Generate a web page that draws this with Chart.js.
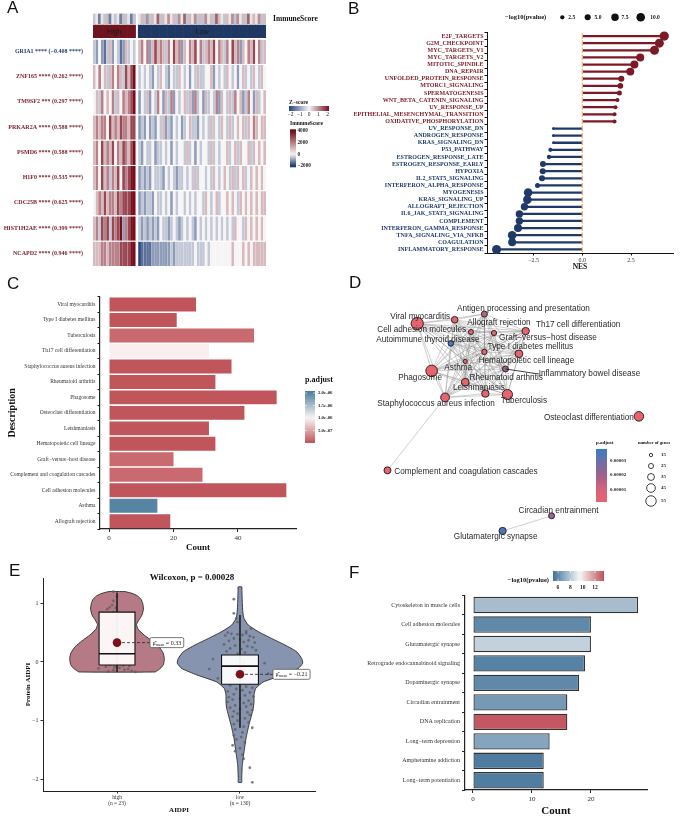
<!DOCTYPE html>
<html><head><meta charset="utf-8">
<script src="https://cdn.jsdelivr.net/npm/chart.js@4.4.1/dist/chart.umd.min.js"></script>
<style>
html,body{margin:0;padding:0;background:#fff}
body{width:690px;height:818px;position:relative;overflow:hidden}
canvas{position:absolute}
.pl{position:absolute;font-family:"Liberation Sans",Arial,sans-serif;font-size:17px;line-height:17px;color:#111}
</style></head><body>
<canvas id="cA" width="345" height="290" style="left:0;top:0"></canvas>
<canvas id="cB" width="345" height="275" style="left:345px;top:0"></canvas>
<canvas id="cC" width="345" height="275" style="left:0;top:285px"></canvas>
<canvas id="cD" width="345" height="265" style="left:345px;top:290px"></canvas>
<canvas id="cE" width="345" height="263" style="left:0;top:555px"></canvas>
<canvas id="cF" width="345" height="263" style="left:345px;top:555px"></canvas>
<div class="pl" style="left:7px;top:-1px">A</div>
<div class="pl" style="left:348px;top:0px">B</div>
<div class="pl" style="left:7px;top:275px">C</div>
<div class="pl" style="left:349px;top:274px">D</div>
<div class="pl" style="left:9px;top:562px">E</div>
<div class="pl" style="left:349px;top:564px">F</div>
<script>
// ======================= DATA =======================
// ---- Panel A: heatmap ----
const geneLabels = ['GRIA1 **** (−0.408 ****)','ZNF165 **** (0.262 ****)','TM9SF2 *** (0.297 ****)','PRKAR2A **** (0.588 ****)','PSMD6 **** (0.588 ****)','H1F0 **** (0.535 ****)','CDC25B **** (0.625 ****)','HIST1H2AE **** (0.399 ****)','NCAPD2 **** (0.946 ****)'];
const geneCorr = [-0.408,0.262,0.297,0.588,0.588,0.535,0.625,0.399,0.946];
const groupNames = ['High','Low'];
// z-score level per sample column: digit d -> z = (d-4)/2
const zHigh = [
 '32421352 43125343','54645356 46537578','45364546 35465678','56566475 65766577','56475657 46576578',
 '56475636 57476788','45657566 57677788','56376737 67826788','55566566 66777788'];
const zLow = [
 '56462575 65364756 25465746 35657465 36475625 46574635',
 '34343243 54324335 43424353 34452434 35434245 34354354',
 '24352436 42536243 45352634 25343625 43536452 36425345',
 '23242324 35232434 23453324 34353435 43534545 35465455',
 '32433423 34342434 43534243 44353434 45345354 45354545',
 '23232433 32434323 34343534 43435434 54353545 34545454',
 '23233243 34342434 43434344 35434534 45454354 54545455',
 '32323232 43323432 34343243 43434343 43435443 54545454',
 '01111222 22223233 33333433 34344444 44454445 45455555'];
// ImmuneScore level per column: digit d -> -2000 + 750*d
const immuneHigh = '23132413 23142312';
const immuneLow = '34252436 24353425 36243524 25342643 24352534 26343524';

// ---- Panel B: GSEA lollipop ----
const gseaTerms = ['E2F_TARGETS','G2M_CHECKPOINT','MYC_TARGETS_V1','MYC_TARGETS_V2','MITOTIC_SPINDLE','DNA_REPAIR','UNFOLDED_PROTEIN_RESPONSE','MTORC1_SIGNALING','SPERMATOGENESIS','WNT_BETA_CATENIN_SIGNALING','UV_RESPONSE_UP','EPITHELIAL_MESENCHYMAL_TRANSITION','OXIDATIVE_PHOSPHORYLATION','UV_RESPONSE_DN','ANDROGEN_RESPONSE','KRAS_SIGNALING_DN','P53_PATHWAY','ESTROGEN_RESPONSE_LATE','ESTROGEN_RESPONSE_EARLY','HYPOXIA','IL2_STAT5_SIGNALING','INTERFERON_ALPHA_RESPONSE','MYOGENESIS','KRAS_SIGNALING_UP','ALLOGRAFT_REJECTION','IL6_JAK_STAT3_SIGNALING','COMPLEMENT','INTERFERON_GAMMA_RESPONSE','TNFA_SIGNALING_VIA_NFKB','COAGULATION','INFLAMMATORY_RESPONSE'];
const gseaNES = [4.2,3.95,3.7,2.97,2.67,2.46,2.0,1.95,1.9,1.8,1.7,1.65,1.65,-1.49,-1.49,-1.49,-1.64,-1.71,-2.02,-2.03,-2.07,-2.3,-2.78,-2.82,-2.97,-3.23,-3.23,-3.3,-3.6,-3.6,-4.4];
const gseaLogP = [11.8,11,11,8.6,8.6,8.6,4.9,4.4,3.4,2.2,2.2,2.2,2.2,1.0,1.0,1.0,2.2,2.5,4.9,4.9,4.9,3.4,10,10,7.3,7.3,7.3,8.6,10,8.6,11];
const gseaLegendVals = [2.5,5.0,7.5,10.0];

// ---- Panel C: KEGG bar ----
const cTerms = ['Viral myocarditis','Type I diabetes mellitus','Tuberculosis','Th17 cell differentiation','Staphylococcus aureus infection','Rheumatoid arthritis','Phagosome','Osteoclast differentiation','Leishmaniasis','Hematopoietic cell lineage','Graft−versus−host disease','Complement and coagulation cascades','Cell adhesion molecules','Asthma','Allograft rejection'];
const cCount = [27,21,45,31,38,33,52,42,31,33,20,29,55,15,19];
const cPadj = [1e-8,1e-8,1.4e-7,0.97e-6,1e-8,1e-8,1e-8,1e-8,1e-8,1e-8,1.4e-7,1.4e-7,1e-8,2.0e-6,1e-8];

// ---- Panel D: enrichment map ----
const dNames = ['Antigen processing and presentation','Viral myocarditis','Cell adhesion molecules','Allograft rejection','Th17 cell differentiation','Graft−versus−host disease','Autoimmune thyroid disease','Type I diabetes mellitus','Hematopoietic cell lineage','Asthma','Inflammatory bowel disease','Phagosome','Rheumatoid arthritis','Leishmaniasis','Tuberculosis','Staphylococcus aureus infection','Osteoclast differentiation','Complement and coagulation cascades','Circadian entrainment','Glutamatergic synapse'];
const dLayoutX = [138,107,68,124,181,148,103,138,174,118,160,83,118,139,162,97,299,37,208,157];
const dLayoutY = [18,24,28,37,36,38,49,58,60,68,76,78,90,102,103,106,126,183,231,247];
const dGenes = [24,27,55,19,31,20,22,21,33,15,24,52,33,31,45,38,42,29,24,30];
const dPadj = [1.5e-5,1.5e-6,1.5e-6,2e-6,1.5e-6,2e-6,3.6e-5,2e-6,1.5e-6,2e-6,2.0e-5,1.5e-6,1.5e-6,1.5e-6,1.5e-6,1.5e-6,1.5e-6,1.5e-6,2.0e-5,3.5e-5];
const dCluster = [0,1,2,3,4,5,6,7,8,9,10,11,12,13,14,15];
const dExtraEdges = [[15,17],[18,19]];
const dSizeLegend = [15,25,35,45,55];

// ---- Panel E: violin ----
const eGroups = ['high','low'];
const eN = [23,130];
const eViolinHighY = [1.20,1.17,1.13,1.07,1.00,0.90,0.80,0.72,0.64,0.56,0.46,0.36,0.26,0.16,0.06,-0.04,-0.10,-0.14,-0.17];
const eViolinHighW = [0.065,0.122,0.163,0.195,0.209,0.215,0.203,0.179,0.159,0.171,0.22,0.285,0.341,0.374,0.385,0.378,0.358,0.333,0.309];
const eViolinLowY = [1.28,1.2,1.0,0.85,0.74,0.63,0.52,0.40,0.29,0.175,0.06,-0.02,-0.11,-0.22,-0.34,-0.45,-0.56,-0.68,-0.79,-0.9,-1.07,-1.3,-1.53,-1.75,-1.98,-2.05];
const eViolinLowW = [0.015,0.016,0.019,0.023,0.033,0.067,0.146,0.258,0.366,0.461,0.502,0.51,0.474,0.352,0.189,0.128,0.114,0.114,0.108,0.095,0.073,0.049,0.033,0.019,0.014,0.014];
const eHighY = [1.20,1.12,1.04,0.97,0.93,0.92,0.90,0.85,0.82,-0.03,-0.05,-0.06,-0.08,-0.10,-0.11,-0.12,-0.14,-0.15,-0.16,-0.17,-0.13,-0.09,-0.07];
const eHighDx = [-0.03,0.00,-0.03,-0.04,-0.06,-0.01,-0.08,-0.03,0.02,-0.12,-0.06,0.05,-0.09,0.02,-0.15,0.09,-0.03,0.12,-0.07,0.15,0.06,-0.02,0.10];
const eLowY = [1.07,0.83,0.74,0.68,0.57,0.52,
 0.50,0.48,0.47,0.46,0.49,0.44,0.45,0.42,0.40,0.38,0.37,0.36,0.34,0.33,
 0.30,0.28,0.27,0.25,0.23,0.22,0.20,0.18,0.16,0.14,
 0.10,0.0,-0.1,-0.2,-0.3,
 0.05,-0.02,-0.12,-0.20,-0.28,
 -0.40,-0.42,-0.44,-0.46,-0.48,-0.50,-0.52,-0.55,-0.57,-0.59,-0.60,
 -0.62,-0.64,-0.66,-0.68,-0.70,-0.72,-0.74,-0.76,-0.78,-0.80,-0.82,-0.84,-0.86,-0.88,-0.90,
 -0.93,-0.96,-1.0,-1.03,-1.06,-1.1,-1.12,-1.15,-1.2,
 -1.25,-1.28,-1.32,-1.37,-1.42,-1.47,-1.52,-1.58,
 -1.65,-1.8,-2.05];
const eLowDx = [-0.05,-0.05,-0.03,-0.02,0.09,0.05,
 -0.1,-0.07,-0.02,0.02,0.05,0.08,-0.12,0.11,-0.05,0.0,0.07,-0.09,0.03,0.12,
 -0.13,-0.04,0.06,0.1,-0.08,0.01,0.13,-0.11,0.04,-0.02,
 -0.05,0.03,-0.08,0.06,0.0,
 -0.22,0.2,-0.25,0.23,-0.18,
 -0.08,0.05,0.1,-0.03,0.02,-0.1,0.08,-0.05,0.04,0.11,-0.09,
 0.0,-0.06,0.07,-0.1,0.03,0.09,-0.04,0.05,-0.08,0.0,0.1,-0.05,0.06,-0.02,0.08,
 -0.06,0.04,-0.02,0.07,-0.05,0.03,0.1,-0.04,0.02,
 -0.05,0.01,-0.03,0.04,-0.06,0.0,-0.04,0.02,
 0.03,0.08,0.1];
const eQ1 = [-0.05,-0.38], eMed = [0.14,-0.07], eQ3 = [0.85,0.12];
const eWhiskLo = [-0.17,-1.12], eWhiskHi = [1.18,0.80];
const eMean = [0.33,-0.21];
const ePvalue = '0.00028';

// ---- Panel F: bar ----
const fTerms = ['Cytoskeleton in muscle cells','Cell adhesion molecules','Glutamatergic synapse','Retrograde endocannabinoid signaling','Dopaminergic synapse','Circadian entrainment','DNA replication','Long−term depression','Amphetamine addiction','Long−term potentiation'];
const fCount = [28,20,20,19,18,16,16,13,12,12];
const fLogP = [7.6,5.9,8.25,5.7,5.9,6.45,13.3,6.8,5.5,5.55];
const fLegendTicks = [6,8,10,12];

// ======================= HELPERS =======================
const SERIF = '"Liberation Serif","Times New Roman",serif';
const SANS = '"Liberation Sans",Arial,sans-serif';
Chart.defaults.font.family = SERIF;
Chart.defaults.color = '#333';
Chart.defaults.animation = false;
Chart.defaults.responsive = false;
Chart.defaults.maintainAspectRatio = false;
Chart.defaults.plugins.legend.display = false;
Chart.defaults.plugins.tooltip.enabled = false;
Chart.defaults.events = [];

function hexRgb(h){return [1,3,5].map(i=>parseInt(h.slice(i,i+2),16));}
function rgbS(a){return 'rgb('+a.map(Math.round).join(',')+')';}
function ramp(stops){
  const s = stops.map(([v,c])=>[v,hexRgb(c)]);
  return v=>{
    if (v<=s[0][0]) return rgbS(s[0][1]);
    for (let i=0;i<s.length-1;i++){
      if (v<=s[i+1][0]){const t=(v-s[i][0])/(s[i+1][0]-s[i][0]);return rgbS(s[i][1].map((a,k)=>a+(s[i+1][1][k]-a)*t));}
    }
    return rgbS(s[s.length-1][1]);
  };
}
function txt(ctx,s,x,y,font,color,align,base){ctx.save();ctx.font=font;ctx.fillStyle=color;ctx.textAlign=align||'left';ctx.textBaseline=base||'middle';ctx.fillText(s,x,y);ctx.restore();}
function gradBar(ctx,x0,y0,x1,y1,fn,vFrom,vTo,horiz){
  const g = horiz?ctx.createLinearGradient(x0,0,x1,0):ctx.createLinearGradient(0,y0,0,y1);
  for(let k=0;k<=24;k++){const t=k/24;g.addColorStop(t,fn(vFrom+(vTo-vFrom)*t));}
  ctx.fillStyle=g;ctx.fillRect(x0,y0,x1-x0,y1-y0);
}
const fixW = w => s => { s.width = w; };
const fixH = h => s => { s.height = h; };
const TR = 'rgba(0,0,0,0)';
const base = {devicePixelRatio:1, animation:false, responsive:false, events:[]};

// ======================= PANEL A =======================
(function(){
  const zColor = ramp([[-2,'#27447c'],[0,'#f6f4f4'],[2,'#7a0d1d']]);
  const immColor = ramp([[-2000,'#1d3a70'],[0,'#f5f4f4'],[4000,'#6c0b17']]);
  const zH = zHigh.map(s=>s.replace(/ /g,'')), zL = zLow.map(s=>s.replace(/ /g,''));
  const iH = immuneHigh.replace(/ /g,''), iL = immuneLow.replace(/ /g,'');
  const cols = [];
  for (let i=0;i<zH[0].length;i++) cols.push({g:0,i});
  cols.push(null);
  for (let i=0;i<zL[0].length;i++) cols.push({g:1,i});
  const zAt = (r,c)=>(parseInt((c.g===0?zH[r]:zL[r])[c.i],10)-4)/2;
  const immAt = c=>-2000+750*parseInt((c.g===0?iH:iL)[c.i],10);
  const sets = [];
  for (let r=8;r>=0;r--) sets.push({data:cols.map(c=>c?1:null),backgroundColor:cols.map(c=>c?zColor(zAt(r,c)):TR),borderColor:'#ffffff',borderWidth:{top:1.3,right:0,bottom:0,left:0}});
  sets.push({data:cols.map(c=>c?0.05:null),backgroundColor:TR});
  sets.push({data:cols.map(c=>c?0.5:null),backgroundColor:cols.map(c=>c?(c.g===0?'#6f1520':'#1f3864'):TR)});
  sets.push({data:cols.map(c=>c?0.05:null),backgroundColor:TR});
  sets.push({data:cols.map(c=>c?0.4:null),backgroundColor:cols.map(c=>c?immColor(immAt(c)):TR)});
  const plug = {id:'aExtra', afterDatasetsDraw(ch){
    const ctx = ch.ctx, meta = ch.getDatasetMeta(10);
    const nH = zH[0].length, n = cols.length;
    const segs = [[0,nH-1],[nH+1,n-1]];
    segs.forEach(([a,b],k)=>{
      const e0 = meta.data[a], e1 = meta.data[b];
      txt(ctx,groupNames[k],(e0.x+e1.x)/2,(e0.y+e0.base)/2+0.5,'7px '+SANS,'#1a1a1a','center','middle');
    });
    txt(ctx,'Z−score',289,103,'bold 5.5px '+SERIF,'#111','left');
    gradBar(ctx,289,106,329,111,zColor,-2,2,true);
    ['−2','−1','0','1','2'].forEach((s,k)=>txt(ctx,s,290.5+k*9.25,114.8,'5.5px '+SERIF,'#222','center'));
    txt(ctx,'ImmuneScore',290,123.5,'bold 5.5px '+SERIF,'#111','left');
    gradBar(ctx,290,129.3,296,167.3,immColor,4240,-2220,false);
    [4000,2000,0,-2000].forEach(v=>txt(ctx,String(v).replace('-','−'),297.5,166-(v+2000)/6000*35.3,'bold 5.2px '+SERIF,'#222','left'));
  }};
  new Chart(document.getElementById('cA'),{type:'bar',data:{labels:cols.map((c,i)=>i),datasets:sets},
    plugins:[plug],
    options:{...base, layout:{padding:{top:13,bottom:24,left:0,right:0}},
      datasets:{bar:{barPercentage:1,categoryPercentage:1}},
      scales:{
        x:{stacked:true,display:false},
        y:{stacked:true,min:0,max:10,afterFit:fixW(93),
          afterBuildTicks:s=>{s.ticks=geneLabels.map((_,k)=>({value:8.5-k}));},
          ticks:{autoSkip:false,padding:10,font:{size:6,weight:'bold'},callback:v=>geneLabels[Math.round(8.5-v)],
            color:ctx=>geneCorr[Math.round(8.5-ctx.tick.value)]<0?'#23406f':'#7b1c24'},
          grid:{display:false,drawTicks:false},border:{display:false}},
        yR:{position:'right',min:0,max:10,afterFit:fixW(79),
          afterBuildTicks:s=>{s.ticks=[{value:9.78}];},
          ticks:{padding:7,font:{size:7.5,weight:'bold'},color:'#111',callback:()=>'ImmuneScore'},
          grid:{display:false,drawTicks:false},border:{display:false}}
      }}});
})();

// ======================= PANEL B =======================
(function(){
  const red='#7b1a24', navy='#1f3a68';
  const rOf = v=>1.36*Math.sqrt(v);
  const plug = {id:'bLeg', afterDraw(ch){
    const ctx=ch.ctx;
    txt(ctx,'−log10(pvalue)',160,17.3,'bold 6.5px '+SERIF,'#111','left');
    const xs=[217.3,242.7,270,295.7], lx=[226.7,253,280,310];
    gseaLegendVals.forEach((v,k)=>{ctx.beginPath();ctx.arc(xs[k],17.3,rOf(v),0,Math.PI*2);ctx.fillStyle='#111';ctx.fill();
      txt(ctx,v.toFixed(1),lx[k],17.3,'bold 5.5px '+SERIF,'#111','center');});
  }};
  new Chart(document.getElementById('cB'),{type:'bar',data:{labels:gseaTerms,datasets:[
    {type:'bar',indexAxis:'y',data:gseaNES,backgroundColor:gseaNES.map(v=>v>0?red:navy),barThickness:1.6,order:3},
    {type:'line',indexAxis:'y',data:gseaNES.map(()=>0),showLine:false,pointStyle:'line',rotation:90,pointRadius:2.8,pointBorderColor:'#f2b27e',pointBorderWidth:1.3,order:2},
    {type:'line',indexAxis:'y',data:gseaNES,showLine:false,pointRadius:gseaLogP.map(rOf),pointBackgroundColor:gseaNES.map(v=>v>0?red:navy),pointBorderWidth:0,order:1}
  ]},plugins:[plug],
  options:{...base,indexAxis:'y',layout:{padding:{top:32.5,right:17,left:0,bottom:0}},
    scales:{
      x:{type:'linear',min:-4.89,max:4.65,afterFit:fixH(22),afterBuildTicks:s=>{s.ticks=[{value:-2.5},{value:0},{value:2.5}];},
        ticks:{padding:1,font:{size:6},color:'#333',callback:v=>v.toFixed(1).replace('-','−')},
        grid:{drawOnChartArea:false,tickLength:2.5,color:'#111'},border:{display:true,color:'#111',width:1},
        title:{display:true,text:'NES',font:{size:7.5,weight:'bold'},color:'#111',padding:{top:0,bottom:3.5}}},
      y:{type:'category',afterFit:fixW(142),
        ticks:{autoSkip:false,padding:1,font:{size:6,weight:'bold'},color:ctx=>ctx.index<13?red:navy},
        grid:{drawOnChartArea:false,tickLength:2.5,color:'#111'},border:{display:true,color:'#111',width:1}}
    }}});
})();

// ======================= PANEL C =======================
(function(){
  const cColor = ramp([[0,'#c0535a'],[1.0e-6,'#fbf4f4'],[2.08e-6,'#4a7b9d']]);
  const plug = {id:'cLeg', afterDraw(ch){
    const ctx=ch.ctx;
    txt(ctx,'p.adjust',305,95,'bold 8px '+SERIF,'#111','left');
    gradBar(ctx,305,106,315,158,cColor,2.08e-6,0,false);
    [[2.0e-6,'2.0e-06'],[1.5e-6,'1.5e-06'],[1.0e-6,'1.0e-06'],[5e-7,'5.0e-07']].forEach(([v,s])=>{
      const y=158-v/2.08e-6*52;
      ctx.fillStyle='#fff';ctx.fillRect(305,y-0.3,2,0.6);ctx.fillRect(313,y-0.3,2,0.6);
      txt(ctx,s,318,y,'bold 4.8px '+SERIF,'#222','left');});
  }};
  new Chart(document.getElementById('cC'),{type:'bar',data:{labels:cTerms,datasets:[
    {data:cCount,backgroundColor:cPadj.map(cColor),barPercentage:0.9,categoryPercentage:1,borderWidth:0}]},
    plugins:[plug],
    options:{...base,indexAxis:'y',layout:{padding:{top:11.75,right:49,left:0,bottom:0}},
      scales:{
        x:{type:'linear',min:-2.8,max:58,afterFit:fixH(31),afterBuildTicks:s=>{s.ticks=[{value:0},{value:20},{value:40}];},
          ticks:{padding:2,font:{size:7},color:'#333'},
          grid:{drawOnChartArea:false,tickLength:3,color:'#222'},border:{display:true,color:'#222',width:1.2},
          title:{display:true,text:'Count',font:{size:9,weight:'bold'},color:'#111',padding:{top:0,bottom:6.6}}},
        y:{afterFit:fixW(100),ticks:{autoSkip:false,padding:2,font:{size:5.5},color:'#333'},
          grid:{drawOnChartArea:false,tickLength:2.5,color:'#222'},border:{display:true,color:'#222',width:1.2},
          title:{display:true,text:'Description',font:{size:10,weight:'bold'},color:'#111',padding:{top:6,bottom:0}}}
      }}});
})();

// ======================= PANEL D =======================
(function(){
  const dColor = ramp([[0,'#ea646c'],[1e-5,'#d4637a'],[2e-5,'#a0618a'],[3.86e-5,'#3a7cc4']]);
  const rOf = n=>0.6+0.1*n;
  const labOff = [[39,-5],[-34.5,-3],[4.5,6],[28,-9],[52.5,-6],[54,5],[-23,-4],[46,-5],[7.5,7],[-7,6],[84,5],[-11.5,7],[41,-5],[-6.5,-6],[16.5,6],[-9,6],[-50,1],[78.5,1],[7,-5],[-7,6]];
  const pts = dNames.map((_,i)=>({x:dLayoutX[i],y:dLayoutY[i]}));
  const edges = [];
  for (let a=0;a<dCluster.length;a++) for (let b=a+1;b<dCluster.length;b++) edges.push([dCluster[a],dCluster[b]]);
  dExtraEdges.forEach(e=>edges.push(e));
  const sets = edges.map(([a,b])=>({type:'scatter',data:[pts[a],pts[b]],showLine:true,borderColor:'rgba(140,140,140,0.55)',borderWidth:0.75,pointRadius:0,order:2}));
  sets.push({type:'scatter',data:pts,pointRadius:dGenes.map(rOf),pointBackgroundColor:dPadj.map(dColor),pointBorderColor:'#1a1a1a',pointBorderWidth:0.9,order:1});
  const plug = {id:'dLab', afterDatasetsDraw(ch){
    const ctx=ch.ctx, xs=ch.scales.x, ys=ch.scales.y;
    ctx.save();ctx.font='8.2px '+SANS;
    dNames.forEach((nm,i)=>{
      const px=xs.getPixelForValue(dLayoutX[i]), py=ys.getPixelForValue(dLayoutY[i]);
      const lx=px+labOff[i][0], ly=py+labOff[i][1];
      if (i===10){const w=ctx.measureText(nm).width;ctx.beginPath();ctx.moveTo(px,py);ctx.lineTo(lx-w/2,ly);ctx.strokeStyle='#111';ctx.lineWidth=0.8;ctx.stroke();}
      txt(ctx,nm,lx,ly,'8.2px '+SANS,'#2a2a2a','center','middle');
    });
    ctx.restore();
    txt(ctx,'p.adjust',251,153,'bold 5px '+SERIF,'#111','left');
    gradBar(ctx,251,159,262,212,dColor,3.86e-5,0.9e-6,false);
    [[3e-5,'0.00003'],[2e-5,'0.00002'],[1e-5,'0.00001']].forEach(([v,s])=>{
      const y=212-(v-0.9e-6)/(3.77e-5)*53; txt(ctx,s,265,y,'bold 5px '+SERIF,'#222','left');});
    txt(ctx,'number of genes',293,153,'bold 4.6px '+SERIF,'#111','left');
    const cy=[165,176,187,198,211];
    dSizeLegend.forEach((n,k)=>{ctx.beginPath();ctx.arc(306,cy[k],0.3+0.09*n,0,Math.PI*2);ctx.strokeStyle='#111';ctx.lineWidth=0.8;ctx.stroke();
      txt(ctx,String(n),316,cy[k],'bold 5px '+SERIF,'#222','left');});
  }};
  new Chart(document.getElementById('cD'),{type:'scatter',data:{datasets:sets},plugins:[plug],
    options:{...base,layout:{padding:0},
      scales:{x:{type:'linear',min:0,max:345,display:false},y:{type:'linear',min:0,max:265,reverse:true,display:false}}}});
})();

// ======================= PANEL E =======================
(function(){
  const violin = (cx,Y,Wd)=>{const r=Y.map((y,k)=>({x:cx+Wd[k],y}));const l=Y.map((y,k)=>({x:cx-Wd[k],y})).reverse();const p=r.concat(l);p.push(p[0]);return p;};
  const boxHW=[0.146,0.15];
  const sets=[];
  sets.push({data:violin(1,eViolinHighY,eViolinHighW),showLine:true,fill:'shape',backgroundColor:'#b67a86',borderColor:'#2b2b2b',borderWidth:0.9,pointRadius:0,tension:0.15,order:10});
  sets.push({data:violin(2,eViolinLowY,eViolinLowW),showLine:true,fill:'shape',backgroundColor:'#8794b0',borderColor:'#2b2b2b',borderWidth:0.9,pointRadius:0,tension:0.15,order:10});
  sets.push({data:eHighY.map((y,k)=>({x:1+eHighDx[k],y})),pointRadius:1.4,pointBackgroundColor:'rgba(95,95,95,0.8)',pointBorderWidth:0,order:9});
  sets.push({data:eLowY.map((y,k)=>({x:2+eLowDx[k],y})),pointRadius:1.4,pointBackgroundColor:'rgba(95,95,95,0.8)',pointBorderWidth:0,order:9});
  [0,1].forEach(g=>{
    const cx=g+1,hw=boxHW[g];
    sets.push({data:[{x:cx,y:eWhiskHi[g]},{x:cx,y:eWhiskLo[g]}],showLine:true,borderColor:'#222',borderWidth:0.9,pointRadius:0,order:8.5});
    sets.push({data:[{x:cx-hw,y:eQ1[g]},{x:cx+hw,y:eQ1[g]},{x:cx+hw,y:eQ3[g]},{x:cx-hw,y:eQ3[g]},{x:cx-hw,y:eQ1[g]}],showLine:true,fill:'shape',backgroundColor:'rgba(255,253,253,0.94)',borderColor:'#111',borderWidth:1.1,pointRadius:0,order:8});
    sets.push({data:[{x:cx-hw,y:eMed[g]},{x:cx+hw,y:eMed[g]}],showLine:true,borderColor:'#111',borderWidth:1.6,pointRadius:0,order:7});
    sets.push({data:[{x:cx,y:eMean[g]},{x:cx+0.268,y:eMean[g]}],showLine:true,borderColor:'#222',borderWidth:0.8,borderDash:[3,2],pointRadius:0,order:6});
    sets.push({data:[{x:cx,y:eMean[g]}],pointRadius:4.3,pointBackgroundColor:'#7d0e1b',pointBorderWidth:0,order:5});
  });
  const plug={id:'eExtra',afterDatasetsDraw(ch){
    const ctx=ch.ctx,xs=ch.scales.x,ys=ch.scales.y;
    txt(ctx,'Wilcoxon, p = '+ePvalue,192,23,'bold 9px '+SERIF,'#111','center');
    [0,1].forEach(g=>{
      const x=xs.getPixelForValue(g+1+0.268), y=ys.getPixelForValue(eMean[g]);
      const tail=' = '+eMean[g].toFixed(2).replace('-','−');
      ctx.save();
      ctx.font='6px '+SERIF;const w1=ctx.measureText('μ̂').width;const w3=ctx.measureText(tail).width;
      ctx.font='4px '+SERIF;const w2=ctx.measureText('mean').width;
      const W=w1+w2+w3+5,Hh=10;
      ctx.beginPath();ctx.roundRect(x,y-Hh/2,W,Hh,1.5);ctx.fillStyle='#fff';ctx.fill();ctx.strokeStyle='#555';ctx.lineWidth=0.8;ctx.stroke();
      ctx.restore();
      txt(ctx,'μ̂',x+2.5,y+0.3,'6px '+SERIF,'#222','left');
      txt(ctx,'mean',x+2.5+w1,y+2,'4px '+SERIF,'#222','left');
      txt(ctx,tail,x+2.5+w1+w2,y+0.3,'6px '+SERIF,'#222','left');
    });
  }};
  new Chart(document.getElementById('cE'),{type:'scatter',data:{datasets:sets},plugins:[plug],
    options:{...base,layout:{padding:{top:23,right:30,left:0,bottom:0}},
      scales:{
        x:{type:'linear',min:0.398,max:2.61,afterFit:fixH(27),afterBuildTicks:s=>{s.ticks=[{value:1},{value:2}];},
          ticks:{padding:1,font:{size:5.5,lineHeight:1.1},color:'#333',callback:v=>[eGroups[Math.round(v)-1],'(n = '+eN[Math.round(v)-1]+')']},
          grid:{drawOnChartArea:false,tickLength:2.5,color:'#333'},border:{display:true,color:'#222',width:1},
          title:{display:true,text:'AIDPI',font:{size:7,weight:'bold'},color:'#111',padding:{top:0,bottom:3.8}}},
        y:{type:'linear',min:-2.198,max:1.431,afterFit:fixW(43),afterBuildTicks:s=>{s.ticks=[{value:-2},{value:-1},{value:0},{value:1}];},
          ticks:{padding:2,font:{size:6},color:'#333',callback:v=>String(v).replace('-','−')},
          grid:{drawOnChartArea:false,tickLength:2.5,color:'#333'},border:{display:true,color:'#222',width:1},
          title:{display:true,text:'Protein AIDPI',font:{size:7,weight:'bold'},color:'#111',padding:{top:23.8,bottom:0}}}
      }}});
})();

// ======================= PANEL F =======================
(function(){
  const fColor = ramp([[5.2,'#41739a'],[9.5,'#f7f7f7'],[13.5,'#c1505a']]);
  const plug={id:'fLeg',afterDraw(ch){
    const ctx=ch.ctx;
    txt(ctx,'−log10(pvalue)',204,25,'bold 6.5px '+SERIF,'#111','right');
    gradBar(ctx,208,16,259,26,fColor,5.19,13.46,true);
    fLegendTicks.forEach(v=>{const x=208+(v-5.19)/(13.46-5.19)*51;
      ctx.fillStyle='#fff';ctx.fillRect(x-0.3,16,0.6,2);ctx.fillRect(x-0.3,24,0.6,2);
      txt(ctx,String(v),x,33,'bold 5.5px '+SERIF,'#222','center');});
  }};
  new Chart(document.getElementById('cF'),{type:'bar',data:{labels:fTerms,datasets:[
    {data:fCount,backgroundColor:fLogP.map(fColor),borderColor:'#333',borderWidth:1.3,borderSkipped:false,barPercentage:0.84,categoryPercentage:1}]},
    plugins:[plug],
    options:{...base,indexAxis:'y',layout:{padding:{top:40.3,right:43,left:0,bottom:0}},
      scales:{
        x:{type:'linear',min:-1.35,max:29.5,afterFit:fixH(28),afterBuildTicks:s=>{s.ticks=[{value:0},{value:10},{value:20}];},
          ticks:{padding:2,font:{size:7},color:'#333'},
          grid:{drawOnChartArea:false,tickLength:3,color:'#222'},border:{display:true,color:'#222',width:1.2},
          title:{display:true,text:'Count',font:{size:11,weight:'bold'},color:'#111',padding:{top:0,bottom:0}}},
        y:{afterFit:fixW(120),ticks:{autoSkip:false,padding:2,font:{size:6},color:'#333'},
          grid:{drawOnChartArea:false,tickLength:3,color:'#222'},border:{display:true,color:'#222',width:1.2}}
      }}});
})();
</script>
</body></html>
